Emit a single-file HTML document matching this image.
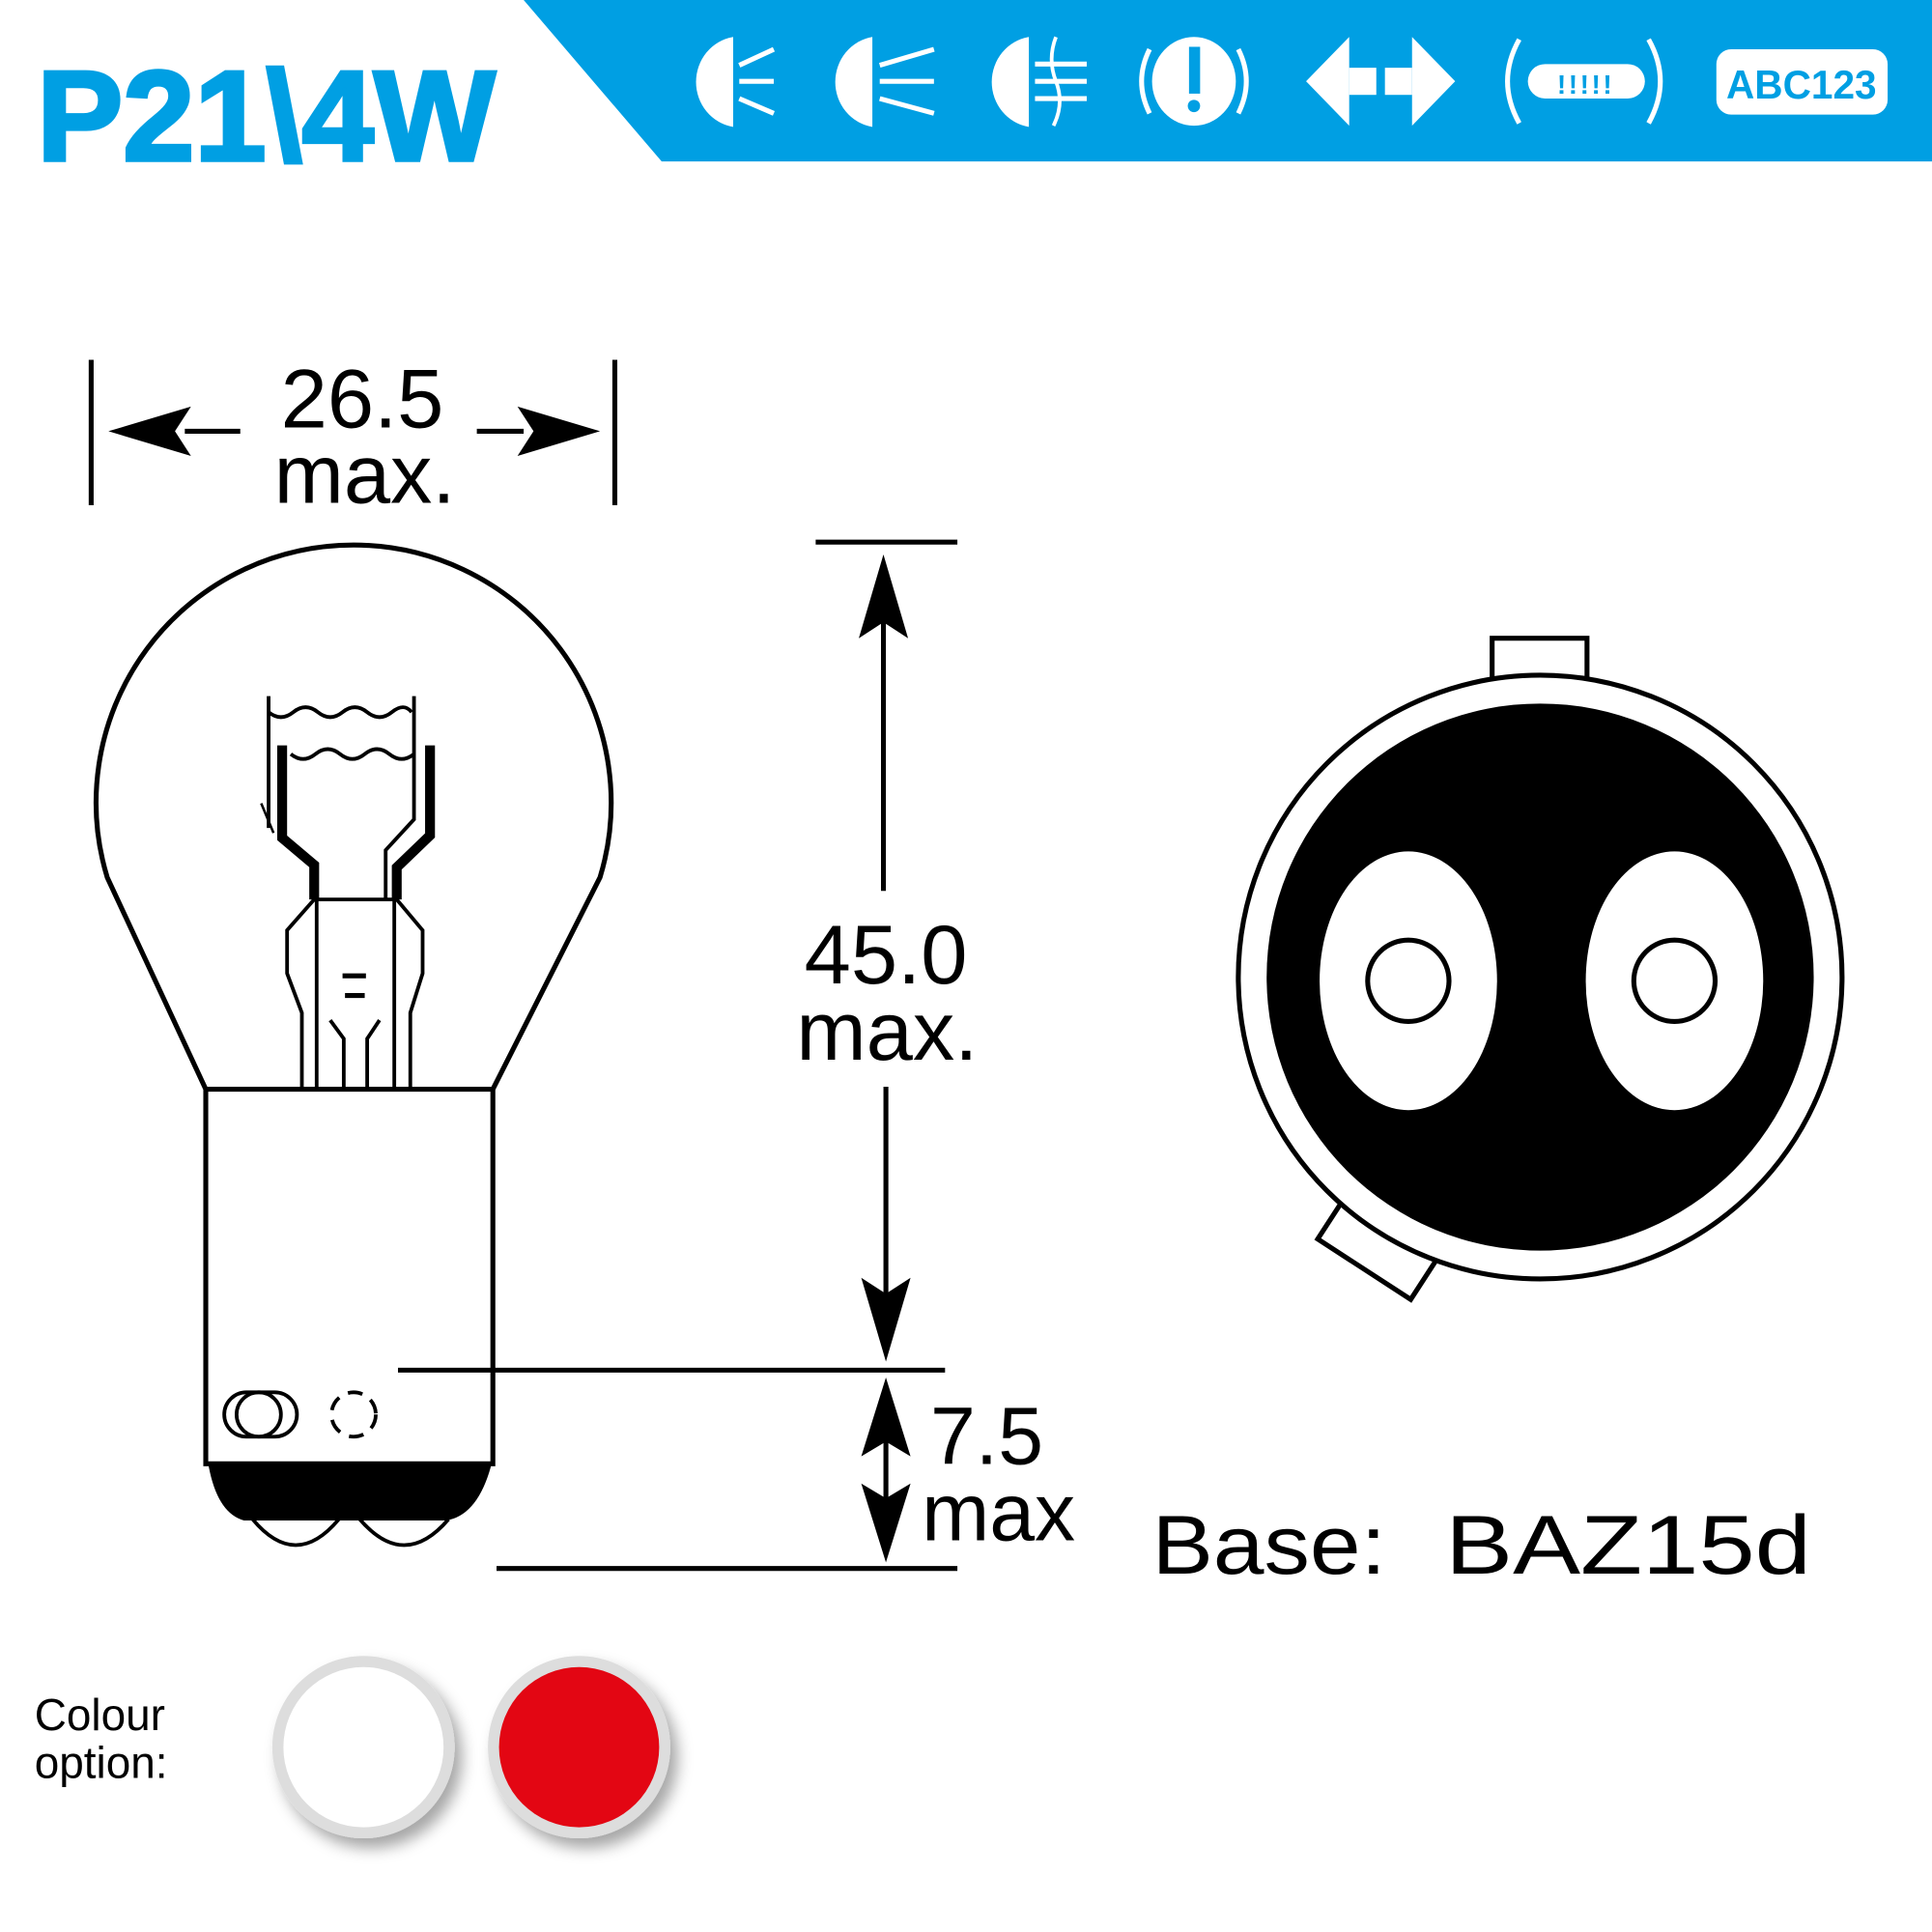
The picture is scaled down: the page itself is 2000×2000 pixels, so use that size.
<!DOCTYPE html>
<html><head><meta charset="utf-8"><style>html,body{margin:0;padding:0;background:#fff}svg{display:block}</style></head>
<body>
<svg width="2000" height="2000" viewBox="0 0 1568 1568" xmlns="http://www.w3.org/2000/svg" font-family="Liberation Sans, sans-serif">
<defs><filter id="sh" x="-30%" y="-30%" width="170%" height="170%"><feDropShadow dx="6" dy="8" stdDeviation="6" flood-color="#000" flood-opacity="0.35"/></filter></defs>
<rect width="1568" height="1568" fill="#fff"/>
<!-- banner -->
<polygon points="425,0 1568,0 1568,131 537,131" fill="#009fe3"/>
<text x="30" y="130" font-size="104" font-weight="bold" fill="#009fe3" stroke="#009fe3" stroke-width="3" textLength="372" lengthAdjust="spacingAndGlyphs">P21\4W</text>
<g fill="#fff" stroke="#fff">
 <path d="M595,30 A36,37 0 0 0 595,103 Z" stroke="none"/>
 <g stroke-width="4" fill="none"><line x1="600" y1="53" x2="628" y2="40"/><line x1="600" y1="66" x2="628" y2="66"/><line x1="600" y1="80" x2="628" y2="92"/></g>
 <path d="M708,30 A36,37 0 0 0 708,103 Z" stroke="none"/>
 <g stroke-width="4" fill="none"><line x1="714" y1="53" x2="758" y2="40"/><line x1="714" y1="66" x2="758" y2="66"/><line x1="714" y1="80" x2="758" y2="92"/></g>
 <path d="M835,30 A36,37 0 0 0 835,103 Z" stroke="none"/>
 <g stroke-width="4" fill="none"><line x1="840" y1="52" x2="882" y2="52"/><line x1="840" y1="66" x2="882" y2="66"/><line x1="840" y1="80" x2="882" y2="80"/><path d="M857,30 Q850,48 857,66 Q864,84 855,102" stroke-width="3"/></g>
 <ellipse cx="969" cy="66" rx="34" ry="36" stroke="none"/>
 <g stroke-width="4" fill="none"><path d="M933,40 Q920,66 933,92"/><path d="M1005,40 Q1018,66 1005,92"/></g>
 <polygon points="1060,66 1095,30 1095,102" stroke="none"/>
 <rect x="1095" y="55" width="22" height="22" stroke="none"/>
 <rect x="1124" y="55" width="22" height="22" stroke="none"/>
 <polygon points="1146,30 1181,66 1146,102" stroke="none"/>
 <g stroke-width="4" fill="none"><path d="M1233,32 Q1214,66 1233,100"/><path d="M1338,32 Q1357,66 1338,100"/></g>
 <rect x="1240" y="52" width="95" height="28" rx="14" stroke="none"/>
 <rect x="1393" y="40" width="139" height="53" rx="12" stroke="none"/>
</g>
<rect x="965" y="38" width="9" height="38" fill="#009fe3"/><circle cx="969" cy="86" r="5" fill="#009fe3"/>
<text x="1287" y="76" font-size="22" font-weight="bold" fill="#009fe3" text-anchor="middle" letter-spacing="2">!!!!!</text>
<text x="1462" y="80" font-size="33" font-weight="bold" fill="#009fe3" text-anchor="middle" textLength="122" lengthAdjust="spacingAndGlyphs">ABC123</text>

<!-- bulb -->
<g fill="none" stroke="#000" stroke-width="4">
 <path d="M167,884 L87,712 A209,209 0 1 1 487,712 L400,884"/>
 <rect x="167" y="884" width="233" height="304"/>
 <path d="M218,565 L218,672 M336,565 L336,665 L313,690 L313,730" stroke-width="3"/>
 <path d="M218,578 q10,8 20,0 t20,0 t20,0 t20,0 t20,0 t16,0" stroke-width="3"/>
 <path d="M236,612 q10,8 20,0 t20,0 t20,0 t20,0 t20,0" stroke-width="3"/>
 <path d="M229,605 L229,680 L255,702 L255,730 M349,605 L349,678 L322,704 L322,730" stroke-width="8"/>
 <path d="M255,730 L322,730 L343,755 L343,790 L333,822 L333,884 M245,884 L245,822 L233,790 L233,755 L255,730" stroke-width="3"/>
 <path d="M257,730 L257,884 M320,730 L320,884" stroke-width="3"/>
 <path d="M278,792 L297,792 M280,808 L296,808" stroke-width="4"/>
 <path d="M268,828 L279,843 L279,884 M308,828 L298,843 L298,884" stroke-width="3"/>
 <path d="M212,652 L222,676" stroke-width="2"/>
 <rect x="182" y="1130" width="59" height="36" rx="18" stroke-width="3"/>
 <circle cx="210" cy="1148" r="18" stroke-width="3"/>
 <circle cx="287" cy="1148" r="18" stroke-width="3" stroke-dasharray="12,8"/>
 <path d="M205,1233 Q240,1275 275,1233 M292,1233 Q328,1275 364,1233" stroke-width="3"/>
</g>
<path d="M169,1188 L399,1188 Q388,1230 362,1234 L198,1234 Q176,1228 169,1188 Z" fill="#000"/>

<!-- dimensions -->
<g stroke="#000" stroke-width="4" fill="none">
 <line x1="74" y1="292" x2="74" y2="410"/><line x1="499" y1="292" x2="499" y2="410"/>
 <line x1="150" y1="350" x2="195" y2="350"/><line x1="387" y1="350" x2="425" y2="350"/>
 <line x1="662" y1="440" x2="777" y2="440"/>
 <line x1="717" y1="500" x2="717" y2="723"/>
 <line x1="719" y1="882" x2="719" y2="1060"/>
 <line x1="323" y1="1112" x2="767" y2="1112"/>
 <line x1="403" y1="1273" x2="777" y2="1273"/>
 <line x1="719" y1="1160" x2="719" y2="1230"/>
</g>
<g fill="#000">
 <polygon points="88,350 155,330 142,350 155,370"/>
 <polygon points="487,350 420,330 433,350 420,370"/>
 <polygon points="717,450 697,518 717,505 737,518"/>
 <polygon points="719,1105 699,1037 719,1050 739,1037"/>
 <polygon points="719,1118 699,1182 719,1170 739,1182"/>
 <polygon points="719,1268 699,1204 719,1216 739,1204"/>
</g>
<g font-size="68" fill="#000" text-anchor="middle">
 <text x="294" y="347">26.5</text><text x="296" y="408">max.</text>
 <text x="719" y="798">45.0</text><text x="720" y="860">max.</text>
</g>
<text x="755" y="1188" font-size="66">7.5</text>
<text x="748" y="1250" font-size="66">max</text>
<text x="935" y="1277" font-size="68" textLength="190" lengthAdjust="spacingAndGlyphs">Base:</text>
<text x="1173" y="1277" font-size="68" textLength="297" lengthAdjust="spacingAndGlyphs">BAZ15d</text>

<!-- base view -->
<rect x="1211" y="518" width="77" height="34" fill="#fff" stroke="#000" stroke-width="4"/>
<g transform="rotate(33 1117 1015)"><rect x="1072" y="995" width="90" height="38" fill="#fff" stroke="#000" stroke-width="4"/></g>
<circle cx="1250" cy="793" r="245" fill="#fff" stroke="#000" stroke-width="4"/>
<circle cx="1250" cy="793" r="222" fill="#000"/>
<ellipse cx="1143" cy="796" rx="72" ry="105" fill="#fff"/>
<ellipse cx="1359" cy="796" rx="72" ry="105" fill="#fff"/>
<circle cx="1143" cy="796" r="33" fill="#fff" stroke="#000" stroke-width="4"/>
<circle cx="1359" cy="796" r="33" fill="#fff" stroke="#000" stroke-width="4"/>

<!-- colours -->
<text x="28" y="1404" font-size="36" fill="#000">Colour</text>
<text x="28" y="1443" font-size="36" fill="#000">option:</text>
<circle cx="295" cy="1418" r="74" fill="#ddd" filter="url(#sh)"/>
<circle cx="295" cy="1418" r="65" fill="#fff"/>
<circle cx="470" cy="1418" r="74" fill="#ddd" filter="url(#sh)"/>
<circle cx="470" cy="1418" r="65" fill="#e30613"/>
</svg>
</body></html>
